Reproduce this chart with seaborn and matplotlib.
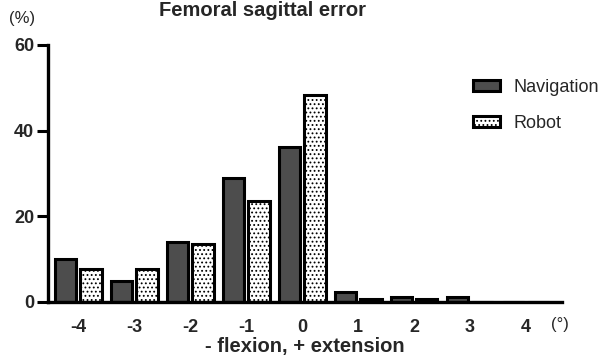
import matplotlib
matplotlib.use('Agg')
import matplotlib.pyplot as plt
import seaborn as sns
import pandas as pd

# Values (percent of cases per error bin)
error_bins = ['-4', '-3', '-2', '-1', '0', '1', '2', '3', '4']
navigation = [10.0, 4.9, 13.9, 29.0, 36.2, 2.2, 1.1, 1.1, 0.0]
robot = [7.7, 7.7, 13.5, 23.5, 48.3, 0.7, 0.7, 0.0, 0.0]
groups = ['Navigation', 'Robot']

df = pd.DataFrame({
    'error': error_bins * 2,
    'percent': navigation + robot,
    'group': [groups[0]] * len(error_bins) + [groups[1]] * len(error_bins),
})

sns.set_theme(style='white')
plt.rcParams['font.family'] = ['Liberation Sans', 'DejaVu Sans']
plt.rcParams['hatch.color'] = '#8a8a8a'
plt.rcParams['hatch.linewidth'] = 0.8

fig = plt.figure(figsize=(6.08, 3.59), dpi=100)
ax = fig.add_axes([0.079, 0.159, 0.845, 0.716])

sns.barplot(data=df, x='error', y='percent', hue='group', order=error_bins,
            hue_order=groups, palette=['#4d4d4d', 'white'], width=0.9, gap=0.14,
            edgecolor='black', linewidth=2.2, ax=ax)

# dotted fill for the robot bars
for bar in ax.containers[1]:
    bar.set_hatch('....')

ax.set_ylim(0, 60)
ax.set_xlim(-0.54, 8.64)
ax.set_yticks([0, 20, 40, 60])
ax.set_xlabel('- flexion, + extension', fontsize=14.5, fontweight='bold', labelpad=1)
ax.set_ylabel('')

sns.despine(ax=ax)
for side in ['left', 'bottom']:
    ax.spines[side].set_linewidth(2.4)
    ax.spines[side].set_color('black')
ax.tick_params(axis='y', direction='out', length=8, width=2.2, color='black', left=True,
               labelsize=13, pad=2)
ax.tick_params(axis='x', length=0, labelsize=13, pad=12)
for lab in ax.get_xticklabels() + ax.get_yticklabels():
    lab.set_fontweight('bold')

leg = ax.legend(loc='upper left', bbox_to_anchor=(0.796, 0.93), frameon=False, fontsize=13,
                handlelength=1.5, handleheight=0.6, labelspacing=1.05, handletextpad=0.75)
for h in leg.legend_handles:
    h.set_linewidth(2.2)
    h.set_edgecolor('black')
leg.legend_handles[1].set_hatch('....')

fig.text(0.431, 0.970, 'Femoral sagittal error', ha='center', va='center',
         fontsize=14.5, fontweight='bold')
fig.text(0.037, 0.948, '(%)', ha='center', va='center', fontsize=12)
fig.text(0.921, 0.095, '(\u00b0)', ha='center', va='center', fontsize=12)

plt.savefig('out.png', dpi=100)
plt.close()
